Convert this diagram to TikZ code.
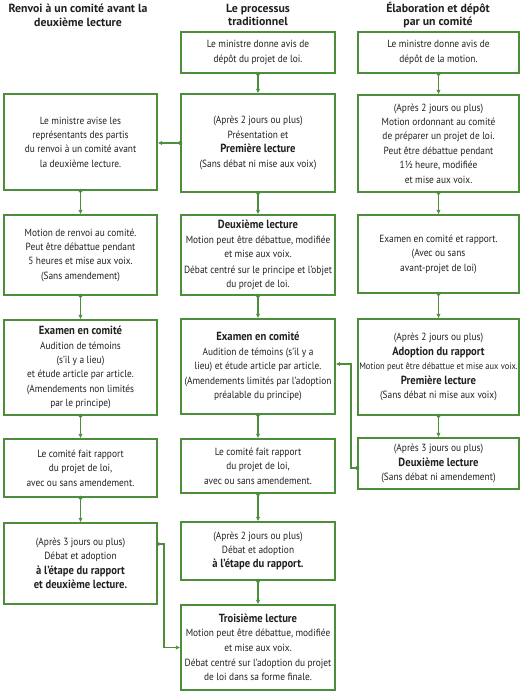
\documentclass[tikz,border=0pt]{standalone}
\usepackage{fontspec}
\setmainfont{PT Sans}[FakeStretch=0.9]
\newfontfamily\headfont{PT Sans}
\usetikzlibrary{arrows.meta}
\definecolor{boxgreen}{RGB}{77,142,61}
\definecolor{txt}{RGB}{35,31,32}
\newcommand{\hb}[1]{{\fontsize{11.8}{14.5}\selectfont\bfseries #1}}
\begin{document}
\begin{tikzpicture}[x=1pt,y=1pt,
  box/.style={draw=boxgreen, line width=1.4pt, align=center, inner sep=1pt, text=txt,
    font={\fontsize{10.4}{14.4}\selectfont}},
  colL/.style={box, minimum width=153pt},
  colM/.style={box, minimum width=154pt},
  colR/.style={box, minimum width=161pt},
  head/.style={align=center, text=txt, font={\headfont\fontsize{11.8}{13.8}\selectfont\bfseries}},
  conn/.style={draw=boxgreen, line width=1.3pt, -{Latex[length=4.5pt,width=4.5pt]}},
  startdot/.style={fill=boxgreen}
]
\useasboundingbox (0,0) rectangle (525,-695);

% headers
\node[head] (hL) at (78,-15) {Renvoi à un comité avant la\\deuxième lecture};
\node[head] (hM) at (258,-15) {Le processus\\traditionnel};
\node[head] (hR) at (438,-15) {Élaboration et dépôt\\par un comité};

% left column
\node[colL, minimum height=96pt] (L1) at (80.5,-142) {Le ministre avise les\\représentants des partis\\du renvoi à un comité avant\\la deuxième lecture.};
\node[colL, minimum height=80pt] (L2) at (80.5,-255) {Motion de renvoi au comité.\\Peut être débattue pendant\\5 heures et mise aux voix.\\(Sans amendement)};
\node[colL, minimum height=95pt] (L3) at (80.5,-367.5) {\hb{Examen en comité}\\Audition de témoins\\(s’il y a lieu)\\et étude article par article.\\(Amendements non limités\\par le principe)};
\node[colL, minimum height=58pt] (L4) at (80.5,-468) {Le comité fait rapport\\du projet de loi,\\avec ou sans amendement.};
\node[colL, minimum height=81pt] (L5) at (80.5,-563.5) {(Après 3 jours ou plus)\\Débat et adoption\\\hb{à l’étape du rapport}\\\hb{et deuxième lecture.}};

% middle column
\node[colM, minimum height=41pt] (M1) at (258,-52.5) {Le ministre donne avis de\\dépôt du projet de loi.};
\node[colM, minimum height=98pt] (M2) at (258,-143) {(Après 2 jours ou plus)\\Présentation et\\\hb{Première lecture}\\(Sans débat ni mise aux voix)};
\node[colM, minimum height=80pt] (M3) at (258,-255) {\hb{Deuxième lecture}\\Motion peut être débattue, modifiée\\et mise aux voix.\\[1pt]Débat centré sur le principe et l’objet\\du projet de loi.};
\node[colM, minimum height=95pt] (M4) at (258,-366.5) {\hb{Examen en comité}\\Audition de témoins (s’il y a\\lieu) et étude article par article.\\(Amendements limités par l’adoption\\préalable du principe)};
\node[colM, minimum height=54pt] (M5) at (258,-466) {Le comité fait rapport\\du projet de loi,\\avec ou sans amendement.};
\node[colM, minimum height=58pt] (M6) at (258,-551) {(Après 2 jours ou plus)\\Débat et adoption\\\hb{à l’étape du rapport.}};
\node[colM, minimum height=85pt] (M7) at (258,-647.5) {\hb{Troisième lecture}\\Motion peut être débattue, modifiée\\et mise aux voix.\\[1pt]Débat centré sur l’adoption du projet\\de loi dans sa forme finale.};

% right column
\node[colR, minimum height=41pt] (R1) at (438.5,-52.5) {Le ministre donne avis de\\dépôt de la motion.};
\node[colR, minimum height=97pt] (R2) at (438.5,-143.5) {(Après 2 jours ou plus)\\Motion ordonnant au comité\\de préparer un projet de loi.\\Peut être débattue pendant\\1½ heure, modifiée\\et mise aux voix.};
\node[colR, minimum height=78pt] (R3) at (438.5,-254) {Examen en comité et rapport.\\(Avec ou sans\\avant-projet de loi)};
\node[colR, minimum height=96pt] (R4) at (438.5,-367) {(Après 2 jours ou plus)\\\hb{Adoption du rapport}\\{\fontsize{9.4}{14.4}\selectfont Motion peut être débattue et mise aux voix.}\\\hb{Première lecture}\\(Sans débat ni mise aux voix)};
\node[colR, minimum height=51pt] (R5) at (438.5,-463.5) {(Après 3 jours ou plus)\\\hb{Deuxième lecture}\\(Sans débat ni amendement)};

% vertical connectors
\foreach \a/\b in {L1/L2,L2/L3,L3/L4,L4/L5,M1/M2,M2/M3,M3/M4,M4/M5,M5/M6,M6/M7,R1/R2,R2/R3,R3/R4,R4/R5}{
  \path[conn] (\a.south) -- (\b.north);
  \fill[startdot] (\a.south) circle (2pt);
}

% horizontal connectors
\path[conn] (M2.west) -- (M2.west -| L1.east);
\fill[startdot] (M2.west) circle (2pt);

\coordinate (r5s) at ([yshift=-4.5pt]R5.west);
\coordinate (rbend) at (351,-364);
\path[conn] (r5s) -| (rbend) -- (rbend -| M4.east);
\fill[startdot] (r5s) circle (2pt);

\coordinate (l5s) at ([yshift=19.5pt]L5.east);
\coordinate (lbend) at (164,-544);
\path[conn] (l5s) -- (lbend) |- (M7.west);
\fill[startdot] (l5s) circle (2pt);
\end{tikzpicture}
\end{document}
